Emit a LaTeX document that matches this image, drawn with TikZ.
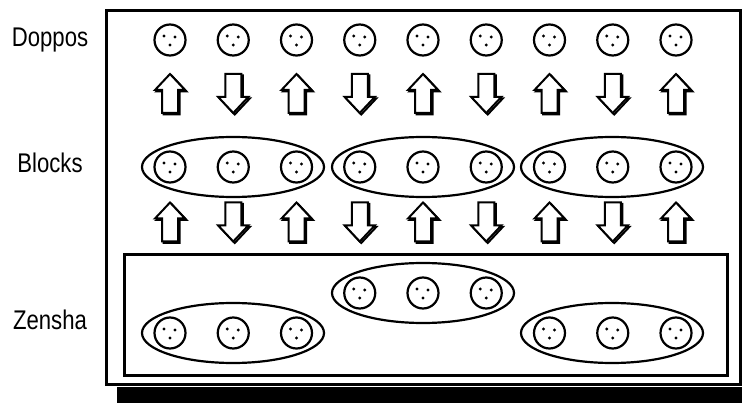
\documentclass[tikz,border=0pt]{standalone}
\usepackage{fontspec}
\setmainfont{Liberation Sans}
\usetikzlibrary{shapes.geometric}
\tikzset{
  ball/.style={circle, draw, line width=2.2pt, fill=white, minimum size=31pt, inner sep=0pt,
    path picture={
      \fill[black] ([shift={(0pt,-5pt)}]path picture bounding box.center) circle (1.7pt);
      \fill[black] ([shift={(-6pt,4pt)}]path picture bounding box.center) circle (1.7pt);
      \fill[black] ([shift={(5pt,3pt)}]path picture bounding box.center) circle (1.7pt);
    }},
  grp/.style={ellipse, draw, line width=2.2pt, minimum width=182pt, minimum height=60pt},
  rowlabel/.style={anchor=base, font=\fontsize{27}{27}\selectfont, xscale=0.82},
  uparr/.pic={
    \draw[line width=2pt, line join=miter, shift={(1.5,1.5)}]
      (0,-19.5) -- (15,-3.5) -- (8,-3.5) -- (8,19.5) -- (-8,19.5) -- (-8,-3.5) -- (-15,-3.5) -- cycle;
    \draw[line width=2pt, line join=miter, fill=white]
      (0,-19.5) -- (15,-3.5) -- (8,-3.5) -- (8,19.5) -- (-8,19.5) -- (-8,-3.5) -- (-15,-3.5) -- cycle;
  },
  dnarr/.pic={
    \draw[line width=2pt, line join=miter, shift={(1.5,1.5)}]
      (0,19.5) -- (15,3.5) -- (8,3.5) -- (8,-19.5) -- (-8,-19.5) -- (-8,3.5) -- (-15,3.5) -- cycle;
    \draw[line width=2pt, line join=miter, fill=white]
      (0,19.5) -- (15,3.5) -- (8,3.5) -- (8,-19.5) -- (-8,-19.5) -- (-8,3.5) -- (-15,3.5) -- cycle;
  }
}
\begin{document}
\begin{tikzpicture}[x=1pt, y=-1pt]
    \useasboundingbox (0,0) rectangle (742,403);
    \clip (0,0) rectangle (742,403);

    % 外框与阴影
    \fill (117,387.5) rectangle (760,420);
    \draw[line width=3pt] (106.5,10.5) rectangle (740,384.5);
    \draw[line width=3pt] (124.5,254.5) rectangle (727,375.5);

    % 行标题
    \node[rowlabel] (doppos) at (50,47) {Doppos};
    \node[rowlabel] (blocks) at (50,173) {Blocks};
    \node[rowlabel] (zensha) at (50,330) {Zensha};

    % 椭圆分组
    \foreach \k/\cx in {1/233, 2/423, 3/612}
        \node[grp] (b\k) at (\cx,167) {};
    \node[grp] (z1) at (233,333) {};
    \node[grp] (z2) at (423,293) {};
    \node[grp] (z3) at (612,333) {};

    % 圆
    \foreach \i in {0,...,8} {
        \pgfmathsetmacro\xx{170+63.25*\i}
        \node[ball] (d\i) at (\xx,40) {};
        \node[ball] (bb\i) at (\xx,167) {};
    }
    \foreach \i in {0,1,2}
        \node[ball] (za\i) at ({170+63.25*\i},333) {};
    \foreach \i in {3,4,5}
        \node[ball] (za\i) at ({170+63.25*\i},293) {};
    \foreach \i in {6,7,8}
        \node[ball] (za\i) at ({170+63.25*\i},333) {};

    % 箭头
    \foreach \i in {0,2,4,6,8} {
        \pic at ({170+63.25*\i},93.5) {uparr};
        \pic at ({170+63.25*\i},222) {uparr};
    }
    \foreach \i in {1,3,5,7} {
        \pic at ({170+63.25*\i},93.5) {dnarr};
        \pic at ({170+63.25*\i},222) {dnarr};
    }

\end{tikzpicture}
\end{document}
